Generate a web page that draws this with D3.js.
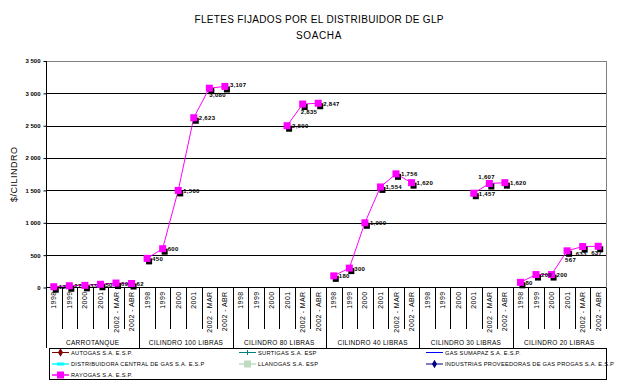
<!DOCTYPE html>
<html>
<head>
<meta charset="utf-8">
<script src="https://cdn.jsdelivr.net/npm/d3@7"></script>
<style>
  body { margin: 0; background: #fff; }
  text { font-family: "Liberation Sans", Arial, sans-serif; fill: #000; }
</style>
</head>
<body>
<div id="chart-area"></div>
<script>
// groups on the category axis and the periods inside each one
var groups = ["CARROTANQUE", "CILINDRO 100 LIBRAS", "CILINDRO 80 LIBRAS",
              "CILINDRO 40 LIBRAS", "CILINDRO 30 LIBRAS", "CILINDRO 20 LIBRAS"];
var periods = ["1998", "1999", "2000", "2001", "2002 - MAR", "2002 - ABR"];

// RAYOGAS S.A. E.S.P. values, one row per group (null = no data)
var rayogas = [
    [12, 27, 33, 50, 69, 62],
    [450, 600, 1500, 2623, 3080, 3107],
    [null, null, null, 2500, 2835, 2847],
    [180, 300, 1000, 1554, 1756, 1620],
    [null, null, null, 1457, 1607, 1620],
    [80, 200, 200, 567, 633, 637]
];

var yTicks = [0, 500, 1000, 1500, 2000, 2500, 3000, 3500];

var legendNames = ["AUTOGAS S.A. E.S.P.", "SURTIGAS S.A. ESP", "GAS SUMAPAZ S.A.  E.S.P.",
                   "DISTRIBUIDORA CENTRAL DE GAS S.A. E.S.P", "LLANOGAS  S.A. ESP",
                   "INDUSTRIAS PROVEEDORAS DE GAS PROGAS S.A. E.S.P",
                   "RAYOGAS  S.A.  E.S.P."];
var legendColors = ["#800000", "#008080", "#0000ff", "#00ffff", "#c0dcc0", "#000080", "#ff00ff"];
var legendMarks = ["diamond", "plus", "none", "dash", "square", "diamond", "square"];

var W = 636, H = 385;
// ("top" is taken by window.top, so plot edges get their own names)
var pLeft = 46, pRight = 606, pTop = 61, pBottom = 287.5;

var svg = d3.select("#chart-area").append("svg")
    .attr("width", W)
    .attr("height", H);

// title
svg.append("text")
    .attr("x", 319).attr("y", 23)
    .attr("text-anchor", "middle")
    .attr("font-size", 10)
    .attr("textLength", 249).attr("lengthAdjust", "spacing")
    .text("FLETES FIJADOS POR EL DISTRIBUIDOR DE GLP");
svg.append("text")
    .attr("x", 319).attr("y", 39)
    .attr("text-anchor", "middle")
    .attr("font-size", 10)
    .attr("letter-spacing", 0.6)
    .text("SOACHA");

// flat list of slots
var slots = [];
groups.forEach((g, gi) => {
    periods.forEach((p, pi) => {
        slots.push({ group: g, gi: gi, period: p, pi: pi, value: rayogas[gi][pi] });
    });
});

var x = d3.scaleBand()
    .domain(d3.range(slots.length))
    .range([pLeft, pRight]);

var y = d3.scaleLinear()
    .domain([0, 3500])
    .range([pBottom, pTop]);

// grid lines
svg.selectAll(".grid")
    .data(yTicks.filter(d => d > 0))
    .enter().append("line")
        .attr("x1", pLeft).attr("x2", pRight)
        .attr("y1", d => Math.round(y(d)) + 0.5)
        .attr("y2", d => Math.round(y(d)) + 0.5)
        .attr("stroke", d => d === 3500 ? "#808080" : "#000")
        .attr("stroke-width", 1);

// right border of the plot
svg.append("line")
    .attr("x1", pRight + 0.5).attr("x2", pRight + 0.5)
    .attr("y1", Math.round(y(3500))).attr("y2", pBottom)
    .attr("stroke", "#808080");

// y axis
var yAxis = d3.axisLeft(y)
    .tickValues(yTicks)
    .tickSize(3)
    .tickPadding(3)
    .tickFormat(d => d3.format(",")(d).replace(",", " "));

var gy = svg.append("g")
    .attr("transform", "translate(" + (pLeft + 0.5) + ",0)")
    .call(yAxis);
gy.select(".domain").remove();
gy.selectAll("text")
    .attr("font-size", 6)
    .attr("font-weight", "bold")
    .attr("font-family", "Liberation Sans, Arial, sans-serif");
gy.selectAll("line").attr("stroke", "#000");

svg.append("line")
    .attr("x1", pLeft + 0.5).attr("x2", pLeft + 0.5)
    .attr("y1", pTop).attr("y2", 348)
    .attr("stroke", "#000");

svg.append("line")
    .attr("x1", pLeft).attr("x2", pRight)
    .attr("y1", pBottom).attr("y2", pBottom)
    .attr("stroke", "#000");

svg.append("text")
    .attr("transform", "translate(17," + ((pTop + pBottom) / 2) + ") rotate(-90)")
    .attr("text-anchor", "middle")
    .attr("font-size", 9)
    .attr("letter-spacing", 0.5)
    .text("$/CILINDRO");

// category separators
var seps = d3.range(1, slots.length + 1);
svg.selectAll(".sep")
    .data(seps)
    .enter().append("line")
        .attr("x1", d => Math.round(x(0) + d * x.step()) + 0.5)
        .attr("x2", d => Math.round(x(0) + d * x.step()) + 0.5)
        .attr("y1", pBottom)
        .attr("y2", d => (d % periods.length === 0 && d < slots.length) ? 348 : 329)
        .attr("stroke", "#000");

// period labels, rotated
svg.selectAll(".period")
    .data(slots)
    .enter().append("text")
        .attr("transform", (d, i) => "translate(" + (x(i) + x.bandwidth() / 2 + 2.5) + "," + (pBottom + 4) + ") rotate(-90)")
        .attr("text-anchor", "end")
        .attr("font-size", 7)
        .attr("letter-spacing", 0.4)
        .text(d => d.period);

// group labels
svg.selectAll(".group")
    .data(groups)
    .enter().append("text")
        .attr("x", (d, i) => x(i * periods.length) + x.step() * periods.length / 2)
        .attr("y", 345)
        .attr("text-anchor", "middle")
        .attr("font-size", 6.5)
        .attr("letter-spacing", 0.3)
        .text(d => d);

// line for RAYOGAS, broken between groups and at missing values
var line = d3.line()
    .defined(d => d.value !== null)
    .x(d => x(d.gi * periods.length + d.pi) + x.bandwidth() / 2)
    .y(d => y(d.value));

groups.forEach((g, gi) => {
    svg.append("path")
        .datum(slots.filter(s => s.gi === gi))
        .attr("d", line)
        .attr("fill", "none")
        .attr("stroke", "#ff00ff")
        .attr("stroke-width", 1);
});

var pts = slots.map((d, i) => Object.assign({ i: i }, d)).filter(d => d.value !== null);
var px = d => x(d.i) + x.bandwidth() / 2;

// dark squares just behind the markers
svg.selectAll(".shadow")
    .data(pts)
    .enter().append("rect")
        .attr("x", d => px(d) - 3 + 2)
        .attr("y", d => y(d.value) - 3 + 3)
        .attr("width", 6).attr("height", 6)
        .attr("fill", "#000");

svg.selectAll(".mark")
    .data(pts)
    .enter().append("rect")
        .attr("x", d => px(d) - 3.5)
        .attr("y", d => y(d.value) - 3.5)
        .attr("width", 7).attr("height", 7)
        .attr("fill", "#ff00ff");

// value labels, mostly to the right; a few sit elsewhere to avoid overlaps
var labelShift = {
    "1-4": [0, 9], "2-4": [-2, 10], "4-4": [-11, -5],
    "5-3": [-2, 11], "5-4": [-7, 9], "5-5": [-7, 9], "1-5": [5, 1]
};
svg.selectAll(".lbl")
    .data(pts)
    .enter().append("text")
        .attr("x", d => px(d) + (labelShift[d.gi + "-" + d.pi] || [5, 2.5])[0])
        .attr("y", d => y(d.value) + (labelShift[d.gi + "-" + d.pi] || [5, 2.5])[1])
        .attr("font-size", 6)
        .attr("font-weight", "bold")
        .attr("letter-spacing", 0.3)
        .text(d => d3.format(",")(d.value));

// legend
var legend = svg.append("g");
legend.append("rect")
    .attr("x", 49.5).attr("y", 348.5)
    .attr("width", 557).attr("height", 31)
    .attr("fill", "none")
    .attr("stroke", "#000");

var colX = [52, 239, 426];
var rowY = [352.5, 364, 375];

legendNames.forEach((name, i) => {
    var lx = colX[i % 3], ly = rowY[Math.floor(i / 3)];
    var item = legend.append("g").attr("transform", "translate(" + lx + "," + ly + ")");
    item.append("line")
        .attr("x1", 0).attr("x2", 17)
        .attr("y1", 0).attr("y2", 0)
        .attr("stroke", legendColors[i])
        .attr("stroke-width", legendMarks[i] === "dash" || legendMarks[i] === "square" ? 1.5 : 1);
    var m = legendMarks[i];
    if (m === "diamond") {
        item.append("path")
            .attr("d", d3.symbol(d3.symbolDiamond, 22)())
            .attr("transform", "translate(8.5,0)")
            .attr("fill", legendColors[i]);
    } else if (m === "plus") {
        item.append("line")
            .attr("x1", 8.5).attr("x2", 8.5).attr("y1", -2.5).attr("y2", 2.5)
            .attr("stroke", legendColors[i]);
    } else if (m === "dash") {
        item.append("rect")
            .attr("x", 5).attr("y", -1.5).attr("width", 7).attr("height", 3)
            .attr("fill", legendColors[i]);
    } else if (m === "square") {
        item.append("rect")
            .attr("x", 5).attr("y", -3.5).attr("width", 7).attr("height", 7)
            .attr("fill", legendColors[i]);
    }
    item.append("text")
        .attr("x", 19).attr("y", 2.2)
        .attr("font-size", 5.7)
        .attr("letter-spacing", 0.25)
        .text(name);
});
</script>
</body>
</html>
